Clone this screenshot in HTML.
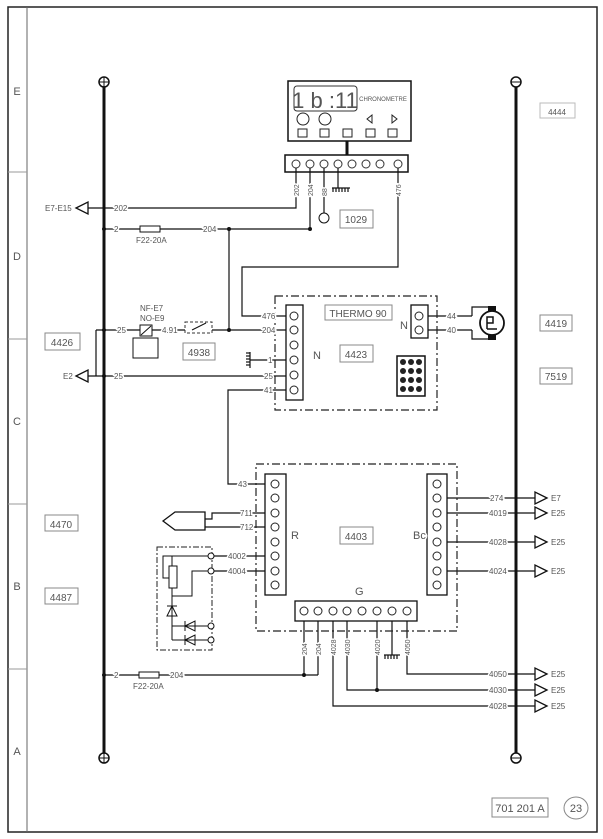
<!DOCTYPE html>
<html><head><meta charset="utf-8"><style>
html,body{margin:0;padding:0;background:#fff}
svg{display:block}
text{font-family:"Liberation Sans",sans-serif;fill:#555}
.lb text{paint-order:stroke;stroke:#fff;stroke-width:3px}
</style></head><body>
<svg width="603" height="839" viewBox="0 0 603 839" xmlns="http://www.w3.org/2000/svg">
<rect x="0" y="0" width="603" height="839" fill="#fff"/>
<rect x="8" y="7" width="589" height="825" fill="none" stroke="#222" stroke-width="1.5"/>
<line x1="27" y1="7" x2="27" y2="832" stroke="#666" stroke-width="1"/>
<g stroke="#999" stroke-width="1">
<line x1="8" y1="172" x2="27" y2="172"/><line x1="8" y1="339" x2="27" y2="339"/>
<line x1="8" y1="504" x2="27" y2="504"/><line x1="8" y1="669" x2="27" y2="669"/>
</g>
<g font-size="11" text-anchor="middle">
<text x="17" y="95">E</text><text x="17" y="260">D</text><text x="17" y="425">C</text><text x="17" y="590">B</text><text x="17" y="755">A</text>
</g>
<line x1="104" y1="82" x2="104" y2="758" stroke="#111" stroke-width="3"/>
<line x1="516" y1="82" x2="516" y2="758" stroke="#111" stroke-width="3"/>
<g fill="#fff" stroke="#111" stroke-width="1.5">
<circle cx="104" cy="82" r="5"/><circle cx="104" cy="758" r="5"/>
<circle cx="516" cy="82" r="5"/><circle cx="516" cy="758" r="5"/>
</g>
<g stroke="#111" stroke-width="1">
<line x1="99" y1="82" x2="109" y2="82"/><line x1="104" y1="77" x2="104" y2="87"/>
<line x1="99" y1="758" x2="109" y2="758"/><line x1="104" y1="753" x2="104" y2="763"/>
<line x1="511" y1="82" x2="521" y2="82"/><line x1="511" y1="758" x2="521" y2="758"/>
</g>
<g fill="none" stroke="#888" stroke-width="1">
<rect x="540" y="103" width="35" height="15" stroke="#bbb"/>
<rect x="540" y="315" width="32" height="16"/>
<rect x="540" y="368" width="32" height="16"/>
<rect x="45" y="333" width="35" height="17"/>
<rect x="45" y="515" width="33" height="16"/>
<rect x="45" y="588" width="33" height="16"/>
<rect x="340" y="210" width="33" height="18"/>
<rect x="183" y="343" width="32" height="17"/>
<rect x="340" y="345" width="33" height="17"/>
<rect x="340" y="527" width="33" height="17"/>
<rect x="325" y="305" width="67" height="15"/>
<rect x="492" y="798" width="56" height="19"/>
<ellipse cx="576" cy="808" rx="12" ry="11"/>
</g>
<g font-size="10" fill="#888" text-anchor="middle">
<text x="557" y="115" font-size="8" fill="#bbb">4444</text>
<text x="556" y="327">4419</text><text x="556" y="380">7519</text>
<text x="62" y="346">4426</text><text x="61" y="528">4470</text><text x="61" y="601">4487</text>
<text x="356" y="223">1029</text><text x="199" y="356">4938</text><text x="356" y="358">4423</text>
<text x="356" y="540">4403</text><text x="358" y="317">THERMO 90</text>
<text x="520" y="812" font-size="11" fill="#555">701 201 A</text>
<text x="576" y="812" font-size="11" fill="#555">23</text>
</g>
<rect x="288" y="81" width="123" height="60" fill="#fff" stroke="#111" stroke-width="1.5"/>
<rect x="294" y="86" width="63" height="25" rx="3" fill="none" stroke="#333"/>
<text x="325" y="108" font-size="22" text-anchor="middle" fill="#222">1 b :11</text>
<text x="383" y="101" font-size="6" text-anchor="middle">CHRONOMETRE</text>
<g fill="none" stroke="#222">
<circle cx="303" cy="119" r="6"/><circle cx="325" cy="119" r="6"/>
<polygon points="372,115 367,119 372,123"/><polygon points="392,115 397,119 392,123"/>
<rect x="298" y="129" width="9" height="8"/><rect x="320" y="129" width="9" height="8"/><rect x="343" y="129" width="9" height="8"/><rect x="366" y="129" width="9" height="8"/><rect x="388" y="129" width="9" height="8"/>
</g>
<line x1="347" y1="141" x2="347" y2="155" stroke="#111" stroke-width="3"/>
<rect x="285" y="155" width="123" height="17" fill="#fff" stroke="#111" stroke-width="1.5"/>
<g fill="none" stroke="#333">
<circle cx="296" cy="164" r="4"/><circle cx="310" cy="164" r="4"/><circle cx="324" cy="164" r="4"/><circle cx="338" cy="164" r="4"/><circle cx="352" cy="164" r="4"/><circle cx="366" cy="164" r="4"/><circle cx="380" cy="164" r="4"/><circle cx="398" cy="164" r="4"/>
</g>
<g fill="none" stroke="#111" stroke-width="1.2">
<polyline points="296,168 296,208 80,208"/>
<line x1="310" y1="168" x2="310" y2="229"/>
<line x1="104" y1="229" x2="310" y2="229"/>
<line x1="324" y1="168" x2="324" y2="213"/>
<line x1="338" y1="168" x2="338" y2="188"/>
<polyline points="398,168 398,267 242,267 242,316 294,316"/>
<line x1="229" y1="229" x2="229" y2="330"/>
<polyline points="96,330 140,330"/><line x1="96" y1="330" x2="96" y2="376"/>
<line x1="152" y1="330" x2="185" y2="330"/>
<line x1="212" y1="330" x2="294" y2="330"/>
<line x1="250" y1="360" x2="294" y2="360"/>
<line x1="80" y1="376" x2="294" y2="376"/>
<polyline points="294,390 228,390 228,484 275,484"/>
<line x1="428" y1="316" x2="472" y2="316"/><line x1="428" y1="330" x2="472" y2="330"/>
<polyline points="472,316 472,307 492,307"/><polyline points="472,330 472,339 492,339"/>
<polyline points="275,513 212,513 212,519 205,519"/>
<polyline points="275,527 205,527"/>
<line x1="211" y1="556" x2="275" y2="556"/><line x1="211" y1="571" x2="275" y2="571"/>
<line x1="437" y1="498" x2="535" y2="498"/><line x1="437" y1="513" x2="535" y2="513"/>
<line x1="437" y1="542" x2="535" y2="542"/><line x1="437" y1="571" x2="535" y2="571"/>
<polyline points="304,611 304,675"/><polyline points="318,611 318,675"/>
<line x1="104" y1="675" x2="318" y2="675"/>
<polyline points="333,611 333,706 535,706"/>
<polyline points="347,611 347,690 535,690"/>
<polyline points="377,611 377,690"/>
<polyline points="392,611 392,655"/>
<polyline points="407,611 407,674 535,674"/>
</g>
<g fill="#fff" stroke="#111" stroke-width="1.3">
<polygon points="76,208 88,202 88,214"/><polygon points="76,376 88,370 88,382"/>
<polygon points="547,498 535,492 535,504"/><polygon points="547,513 535,507 535,519"/>
<polygon points="547,542 535,536 535,548"/><polygon points="547,571 535,565 535,577"/>
<polygon points="547,674 535,668 535,680"/><polygon points="547,690 535,684 535,696"/>
<polygon points="547,706 535,700 535,712"/>
</g>
<g fill="#111"><circle cx="229" cy="229" r="2"/><circle cx="310" cy="229" r="2"/><circle cx="229" cy="330" r="2"/><circle cx="104" cy="229" r="2"/><circle cx="104" cy="330" r="2"/><circle cx="104" cy="376" r="2"/><circle cx="104" cy="675" r="2"/><circle cx="304" cy="675" r="2"/><circle cx="377" cy="690" r="2"/></g>
<circle cx="324" cy="218" r="5" fill="#fff" stroke="#111"/>
<g stroke="#111" stroke-width="1.2">
<line x1="332" y1="188" x2="350" y2="188"/><line x1="333" y1="188" x2="333" y2="192" /><line x1="336" y1="188" x2="336" y2="192"/><line x1="339" y1="188" x2="339" y2="192"/><line x1="342" y1="188" x2="342" y2="192"/><line x1="345" y1="188" x2="345" y2="192"/><line x1="348" y1="188" x2="348" y2="192"/>
<line x1="250" y1="352" x2="250" y2="368"/><line x1="246" y1="353" x2="250" y2="353"/><line x1="246" y1="356" x2="250" y2="356"/><line x1="246" y1="359" x2="250" y2="359"/><line x1="246" y1="362" x2="250" y2="362"/><line x1="246" y1="365" x2="250" y2="365"/>
<line x1="384" y1="655" x2="400" y2="655"/><line x1="385" y1="655" x2="385" y2="659"/><line x1="388" y1="655" x2="388" y2="659"/><line x1="391" y1="655" x2="391" y2="659"/><line x1="394" y1="655" x2="394" y2="659"/><line x1="397" y1="655" x2="397" y2="659"/>
</g>
<g fill="#fff" stroke="#111"><rect x="140" y="226" width="20" height="6"/><rect x="139" y="672" width="20" height="6"/></g>
<rect x="140" y="325" width="12" height="11" fill="#fff" stroke="#111"/>
<line x1="141" y1="335" x2="151" y2="326" stroke="#111"/>
<rect x="133" y="338" width="25" height="20" fill="#fff" stroke="#111"/>
<rect x="185" y="322" width="27" height="11" fill="none" stroke="#333" stroke-dasharray="3,2"/>
<line x1="192" y1="330" x2="206" y2="323" stroke="#111"/>
<rect x="275" y="296" width="162" height="114" fill="none" stroke="#222" stroke-width="1.2" stroke-dasharray="8,3,2,3"/>
<rect x="286" y="305" width="17" height="95" fill="#fff" stroke="#111" stroke-width="1.3"/>
<rect x="411" y="305" width="17" height="33" fill="#fff" stroke="#111" stroke-width="1.3"/>
<g fill="#fff" stroke="#222"><circle cx="294" cy="316" r="4"/><circle cx="294" cy="330" r="4"/><circle cx="294" cy="345" r="4"/><circle cx="294" cy="360" r="4"/><circle cx="294" cy="375" r="4"/><circle cx="294" cy="390" r="4"/><circle cx="419" cy="316" r="4"/><circle cx="419" cy="330" r="4"/></g>
<rect x="397" y="356" width="28" height="40" fill="#fff" stroke="#111" stroke-width="1.5"/>
<g fill="#222"><circle cx="403" cy="362" r="3"/><circle cx="411" cy="362" r="3"/><circle cx="419" cy="362" r="3"/><circle cx="403" cy="371" r="3"/><circle cx="411" cy="371" r="3"/><circle cx="419" cy="371" r="3"/><circle cx="403" cy="380" r="3"/><circle cx="411" cy="380" r="3"/><circle cx="419" cy="380" r="3"/><circle cx="403" cy="389" r="3"/><circle cx="411" cy="389" r="3"/><circle cx="419" cy="389" r="3"/></g>
<circle cx="492" cy="323" r="12" fill="#fff" stroke="#111" stroke-width="1.8"/>
<rect x="488" y="306" width="8" height="5" fill="#111"/><rect x="488" y="335" width="8" height="5" fill="#111"/>
<path d="M487,329 L487,317 L493,317 L493,323 L487,323 M487,329 L497,329" fill="none" stroke="#111" stroke-width="1.5"/>
<rect x="256" y="464" width="201" height="167" fill="none" stroke="#222" stroke-width="1.2" stroke-dasharray="8,3,2,3"/>
<rect x="265" y="474" width="21" height="121" fill="#fff" stroke="#111" stroke-width="1.3"/>
<rect x="427" y="474" width="20" height="121" fill="#fff" stroke="#111" stroke-width="1.3"/>
<rect x="295" y="601" width="122" height="20" fill="#fff" stroke="#111" stroke-width="1.3"/>
<g fill="#fff" stroke="#222">
<circle cx="275" cy="484" r="4"/><circle cx="275" cy="498" r="4"/><circle cx="275" cy="513" r="4"/><circle cx="275" cy="527" r="4"/><circle cx="275" cy="542" r="4"/><circle cx="275" cy="556" r="4"/><circle cx="275" cy="571" r="4"/><circle cx="275" cy="585" r="4"/>
<circle cx="437" cy="484" r="4"/><circle cx="437" cy="498" r="4"/><circle cx="437" cy="513" r="4"/><circle cx="437" cy="527" r="4"/><circle cx="437" cy="542" r="4"/><circle cx="437" cy="556" r="4"/><circle cx="437" cy="571" r="4"/><circle cx="437" cy="585" r="4"/>
<circle cx="304" cy="611" r="4"/><circle cx="318" cy="611" r="4"/><circle cx="333" cy="611" r="4"/><circle cx="347" cy="611" r="4"/><circle cx="362" cy="611" r="4"/><circle cx="377" cy="611" r="4"/><circle cx="392" cy="611" r="4"/><circle cx="407" cy="611" r="4"/>
</g>
<polygon points="163,521 175,512 205,512 205,530 175,530" fill="#fff" stroke="#111" stroke-width="1.3"/>
<rect x="157" y="547" width="55" height="103" fill="none" stroke="#222" stroke-dasharray="6,2,2,2"/>
<g fill="none" stroke="#111">
<polyline points="211,556 172,556 172,566"/><polyline points="172,556 163,556 163,578 169,578"/>
<rect x="169" y="566" width="8" height="22" fill="#fff"/>
<polyline points="172,588 172,596 192,596 192,571 211,571"/>
<line x1="172" y1="596" x2="172" y2="640"/>
<polygon points="167,616 177,616 172,606"/><line x1="167" y1="606" x2="177" y2="606"/>
<polyline points="172,626 211,626"/><polyline points="172,640 211,640"/>
<polygon points="185,626 195,621 195,631"/><line x1="185" y1="621" x2="185" y2="631"/>
<polygon points="185,640 195,635 195,645"/><line x1="185" y1="635" x2="185" y2="645"/>
</g>
<g fill="#fff" stroke="#111"><circle cx="211" cy="556" r="3"/><circle cx="211" cy="571" r="3"/><circle cx="211" cy="626" r="3"/><circle cx="211" cy="640" r="3"/></g>
<g font-size="8" fill="#666" class="lb">
<text x="45" y="211">E7-E15</text><text x="114" y="211">202</text>
<text x="114" y="232">2</text><text x="136" y="243">F22-20A</text><text x="203" y="232">204</text>
<text x="140" y="311">NF-E7</text><text x="140" y="321">NO-E9</text>
<text x="117" y="333">25</text><text x="162" y="333">4.91</text>
<text x="262" y="319">476</text><text x="262" y="333">204</text><text x="268" y="363">1</text>
<text x="264" y="379">25</text><text x="114" y="379">25</text><text x="63" y="379">E2</text><text x="264" y="393">41</text>
<text x="313" y="359" font-size="11">N</text><text x="400" y="329" font-size="11">N</text>
<text x="447" y="319">44</text><text x="447" y="333">40</text>
<text x="238" y="487">43</text><text x="240" y="516">711</text><text x="240" y="530">712</text>
<text x="228" y="559">4002</text><text x="228" y="574">4004</text>
<text x="291" y="539" font-size="11">R</text><text x="413" y="539" font-size="11">Bc</text><text x="355" y="595" font-size="11">G</text>
<text x="490" y="501">274</text><text x="489" y="516">4019</text><text x="489" y="545">4028</text><text x="489" y="574">4024</text>
<text x="551" y="501">E7</text><text x="551" y="516">E25</text><text x="551" y="545">E25</text><text x="551" y="574">E25</text>
<text x="114" y="678">2</text><text x="133" y="689">F22-20A</text><text x="170" y="678">204</text>
<text x="489" y="677">4050</text><text x="489" y="693">4030</text><text x="489" y="709">4028</text>
<text x="551" y="677">E25</text><text x="551" y="693">E25</text><text x="551" y="709">E25</text>
</g>
<g font-size="7" fill="#888" class="lb">
<text transform="translate(299,196) rotate(-90)">202</text>
<text transform="translate(313,196) rotate(-90)">204</text>
<text transform="translate(327,196) rotate(-90)">88</text>
<text transform="translate(401,196) rotate(-90)">476</text>
<text transform="translate(307,655) rotate(-90)">204</text>
<text transform="translate(321,655) rotate(-90)">204</text>
<text transform="translate(336,655) rotate(-90)">4028</text>
<text transform="translate(350,655) rotate(-90)">4030</text>
<text transform="translate(380,655) rotate(-90)">4020</text>
<text transform="translate(410,655) rotate(-90)">4050</text>
</g>
</svg>
</body></html>
